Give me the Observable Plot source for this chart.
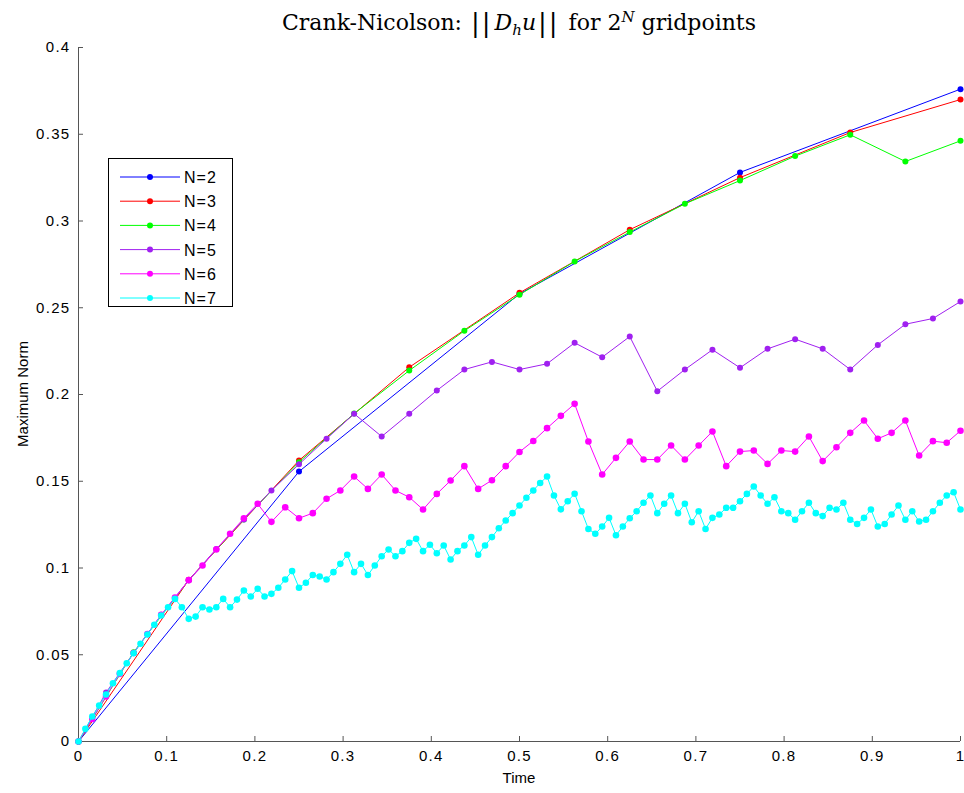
<!DOCTYPE html>
<html><head><meta charset="utf-8">
<script src="https://cdn.jsdelivr.net/npm/d3@7"></script>
<script src="https://cdn.jsdelivr.net/npm/@observablehq/plot@0.6"></script>
<style>
body{margin:0;background:#fff;}
#wrap{position:relative;width:964px;height:793px;overflow:hidden;}
#title{position:absolute;top:6px;left:0;width:1038px;text-align:center;font-family:"DejaVu Serif","Liberation Serif",serif;font-size:22px;color:#000;white-space:nowrap;}
#title .bar{font-size:26px;position:relative;top:2px;letter-spacing:2px;margin:0 2px;}
#xlabel{position:absolute;top:769px;left:0;width:1038px;text-align:center;font-family:"Liberation Sans",Arial,sans-serif;font-size:15px;}
#ylabel{position:absolute;left:22px;top:394px;transform:translate(-50%,-50%) rotate(-90deg);font-family:"Liberation Sans",Arial,sans-serif;font-size:15px;white-space:nowrap;}
#legend{position:absolute;left:108px;top:158px;}
#chart svg g[aria-label$="tick label"] text{letter-spacing:1.3px !important;font-size:15px !important;}
</style></head>
<body>
<div id="wrap">
  <div id="chart"></div>
  <div id="title">Crank-Nicolson: <span class="bar">||</span><i>D<sub style="font-size:15px">h</sub>u</i><span class="bar">||</span> for 2<sup style="font-size:15px"><i>N</i></sup> gridpoints</div>
  <div id="xlabel">Time</div>
  <div id="ylabel">Maximum Norm</div>
  <div id="legend"></div>
</div>
<script>
// ---- data ----
const seriesNames = ["N=2","N=3","N=4","N=5","N=6","N=7"];
const seriesColors = ["#0000ff","#ff0000","#00ff00","#a020f0","#ff00ff","#00ffff"];

const n2 = [0, 0.1556, 0.258, 0.328, 0.376];
const n3 = [0, 0.0932, 0.162, 0.2157, 0.2586, 0.295, 0.325, 0.351, 0.370];
const n4 = [0, 0.0515, 0.0930, 0.128, 0.161, 0.189, 0.2138, 0.2367, 0.2575, 0.2767,
            0.2936, 0.3099, 0.3233, 0.3374, 0.3497, 0.3343, 0.3462];
const n5 = [0, 0.0282, 0.051, 0.073, 0.093, 0.111, 0.128, 0.1447, 0.1598, 0.1745,
            0.1889, 0.1758, 0.1889, 0.2023, 0.2144, 0.2188, 0.2144, 0.2177, 0.2298, 0.2215,
            0.2334, 0.2019, 0.2144, 0.2258, 0.2154, 0.2263, 0.2319, 0.2263, 0.2144, 0.2286,
            0.2405, 0.2438, 0.2536];
const n6 = [0, 0.013, 0.026, 0.039, 0.051, 0.062, 0.073, 0.083, 0.093, 0.1014,
            0.1107, 0.1197, 0.1287, 0.137, 0.1266, 0.135, 0.1287, 0.1316, 0.1399, 0.1447,
            0.1527, 0.1456, 0.1539, 0.1447, 0.1408, 0.1337, 0.1427, 0.1504, 0.1587, 0.1456,
            0.1506, 0.1587, 0.1669, 0.1732, 0.1806, 0.1877, 0.1946, 0.1729, 0.1539, 0.1635,
            0.1729, 0.1625, 0.1625, 0.1706, 0.1625, 0.1706, 0.1787, 0.1587, 0.1671, 0.1677,
            0.16, 0.1677, 0.1671, 0.1758, 0.1616, 0.1696, 0.1779, 0.185, 0.1745, 0.1779,
            0.185, 0.1648, 0.1731, 0.1722, 0.1791];
const n7 = [0, 0.0073, 0.0144, 0.0207, 0.0271, 0.0336, 0.0394, 0.0451, 0.0509, 0.0563,
            0.0617, 0.0673, 0.0726, 0.0774, 0.0822, 0.0774, 0.0707, 0.072, 0.0774, 0.0761,
            0.0774, 0.0822, 0.0774, 0.0818, 0.087, 0.0836, 0.088, 0.0836, 0.0851, 0.0886,
            0.0934, 0.0982, 0.0886, 0.0915, 0.096, 0.0951, 0.0934, 0.0976, 0.1024, 0.1076,
            0.0976, 0.1024, 0.096, 0.1014, 0.1068, 0.1107, 0.1068, 0.1097, 0.1145, 0.1168,
            0.1097, 0.1134, 0.1085, 0.113, 0.1049, 0.1097, 0.113, 0.1178, 0.1076, 0.113,
            0.1178, 0.1229, 0.1274, 0.1316, 0.136, 0.1405, 0.1447, 0.149, 0.1527, 0.1418,
            0.1338, 0.1385, 0.1428, 0.1327, 0.1225, 0.1197, 0.1239, 0.1289, 0.1189, 0.1239,
            0.1287, 0.1327, 0.1376, 0.1418, 0.1316, 0.137, 0.1418, 0.1316, 0.137, 0.1264,
            0.1327, 0.1225, 0.1289, 0.1308, 0.1347, 0.1347, 0.1385, 0.1427, 0.147, 0.1418,
            0.137, 0.1408, 0.1327, 0.1316, 0.1278, 0.1327, 0.1376, 0.1316, 0.1299, 0.1347,
            0.1337, 0.1376, 0.1278, 0.1254, 0.1289, 0.1337, 0.1239, 0.1254, 0.1308, 0.136,
            0.1278, 0.1327, 0.1268, 0.1278, 0.1327, 0.1376, 0.1418, 0.1437, 0.1337];

const xTicks = [0, 0.1, 0.2, 0.3, 0.4, 0.5, 0.6, 0.7, 0.8, 0.9, 1];
const yTicks = [0, 0.05, 0.1, 0.15, 0.2, 0.25, 0.3, 0.35, 0.4];

// ---- build ----
const allVals = [n2, n3, n4, n5, n6, n7];
const perSeries = allVals.map((vals, k) =>
  vals.map((v, i) => ({name: seriesNames[k], t: i / (vals.length - 1), v})));

const axisFont = {fontFamily: "Liberation Sans, Arial, sans-serif", fontSize: 15};
const seriesMarks = perSeries.flatMap((rows, k) => [
  Plot.line(rows, {x: "t", y: "v", stroke: "name", strokeWidth: 1}),
  Plot.dot(rows, {x: "t", y: "v", fill: "name", r: k >= 4 ? 3.3 : 3, stroke: "none"})
]);

const chart = Plot.plot({
  width: 964, height: 793,
  marginLeft: 78, marginRight: 4, marginTop: 47, marginBottom: 52,
  x: {domain: [0, 1]},
  y: {domain: [0, 0.4]},
  color: {domain: seriesNames, range: seriesColors},
  style: {background: "white", color: "black", fontFamily: "Liberation Sans, Arial, sans-serif", fontSize: "15px"},
  marks: [
    Plot.ruleX([0], {stroke: "#555", strokeWidth: 1}),
    Plot.ruleY([0], {stroke: "#555", strokeWidth: 1}),
    Plot.axisX(xTicks, {tickSize: -5, tickPadding: 14, stroke: "#555", fill: "black", tickFormat: d => String(d), label: null, ...axisFont}),
    Plot.axisY(yTicks, {tickSize: -5, tickPadding: 13, stroke: "#555", fill: "black", tickFormat: d => String(d), label: null, ...axisFont}),
    ...seriesMarks
  ]
});
document.getElementById("chart").appendChild(chart);

// ---- legend ----
const lw = 125, lh = 149, rowGap = 24.2, row0 = 19;
const lsvg = d3.select("#legend").append("svg").attr("width", lw).attr("height", lh)
  .style("font-family", "Liberation Sans, Arial, sans-serif").style("font-size", "16px");
lsvg.append("rect").attr("x", 0.5).attr("y", 0.5).attr("width", lw - 1).attr("height", lh - 1)
  .attr("fill", "white").attr("stroke", "black");
const rowsG = lsvg.selectAll("g").data(seriesNames).join("g")
  .attr("transform", (d, i) => `translate(0,${row0 + i * rowGap})`);
rowsG.append("line").attr("x1", 12).attr("x2", 72).attr("y1", 0).attr("y2", 0)
  .attr("stroke", (d, i) => seriesColors[i]).attr("stroke-width", 1);
rowsG.append("circle").attr("cx", 42).attr("cy", 0).attr("r", 3).attr("fill", (d, i) => seriesColors[i]);
rowsG.append("text").attr("x", 76).attr("y", 6).attr("letter-spacing", "1px").text(d => d);
</script>
</body></html>
